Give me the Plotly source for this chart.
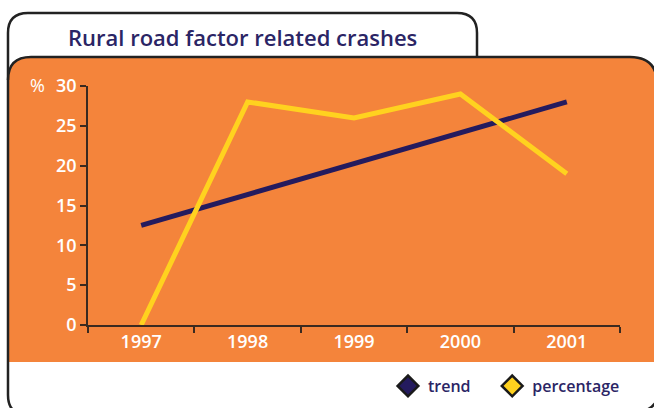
import plotly.graph_objects as go

W, H = 654, 408

years = ["1997", "1998", "1999", "2000", "2001"]
trend = [12.5, 16.375, 20.25, 24.125, 28.0]
percentage = [0, 28, 26, 29, 19]
y_ticks = [0, 5, 10, 15, 20, 25, 30]
legend_names = ["trend", "percentage"]

ORANGE = "#F4843B"
NAVY = "#241B5E"
YELLOW = "#FFD21F"
TEXT_NAVY = "#2B2565"
AXIS = "#3A2A20"
FONT = "Open Sans"
NBSP = "\u00a0"

def px(x, y):
    return f"{x / W:.5f},{1 - y / H:.5f}"

def path(cmds):
    out = []
    for c in cmds:
        if isinstance(c, str):
            out.append(c)
        else:
            out.append(px(*c))
    return " ".join(out)

fig = go.Figure()

fig.add_trace(go.Scatter(x=years, y=trend, mode="lines",
                         line=dict(color=NAVY, width=5), showlegend=False,
                         hoverinfo="skip"))
fig.add_trace(go.Scatter(x=years, y=percentage, mode="lines",
                         line=dict(color=YELLOW, width=5), showlegend=False,
                         hoverinfo="skip"))
# legend entries
fig.add_trace(go.Scatter(x=[None], y=[None], mode="markers",
                         name=legend_names[0] + NBSP * 4,
                         marker=dict(symbol="diamond", size=18, color=NAVY,
                                     line=dict(color="#1a1a1a", width=2.5))))
fig.add_trace(go.Scatter(x=[None], y=[None], mode="markers",
                         name=legend_names[1],
                         marker=dict(symbol="diamond", size=18, color=YELLOW,
                                     line=dict(color="#1a1a1a", width=2.5))))

shapes = []
# orange panel fill
shapes.append(dict(type="path", xref="paper", yref="paper", layer="below",
                   path=path(["M", (8, 362), "L", (8, 80), "Q", (8, 57), (31, 57),
                              "L", (630, 57), "Q", (657, 57), (657, 84),
                              "L", (657, 362), "Z"]),
                   fillcolor=ORANGE, line=dict(width=0)))
# outer outline with tab
shapes.append(dict(type="path", xref="paper", yref="paper", layer="above",
                   path=path(["M", (8, 395), "L", (8, 33), "Q", (8, 13), (28, 13),
                              "L", (457, 13), "Q", (477, 13), (477, 33),
                              "L", (477, 57)]),
                   line=dict(color="#222222", width=2.5)))
shapes.append(dict(type="path", xref="paper", yref="paper", layer="above",
                   path=path(["M", (8, 395), "Q", (8, 412), (22, 414)]),
                   line=dict(color="#222222", width=2.5)))
# orange panel top border
shapes.append(dict(type="path", xref="paper", yref="paper", layer="above",
                   path=path(["M", (8, 80), "Q", (8, 57), (31, 57),
                              "L", (630, 57), "Q", (657, 57), (657, 84)]),
                   line=dict(color="#222222", width=2.5)))
# bottom right corner
shapes.append(dict(type="path", xref="paper", yref="paper", layer="above",
                   path=path(["M", (660, 385), "Q", (660, 408), (640, 412)]),
                   line=dict(color="#222222", width=2.5)))

annotations = [
    dict(text="Rural road factor related crashes", x=242 / W, y=1 - 37 / H,
         xref="paper", yref="paper", showarrow=False,
         xanchor="center", yanchor="middle",
         font=dict(family=FONT, size=22, color=TEXT_NAVY, weight=600)),
    dict(text="%", x=37 / W, y=1 - 85 / H, xref="paper", yref="paper",
         showarrow=False, xanchor="center", yanchor="middle",
         font=dict(family=FONT, size=18, color="white")),
]

fig.update_layout(
    width=W, height=H,
    margin=dict(l=0, r=0, t=0, b=0),
    paper_bgcolor="white",
    plot_bgcolor="rgba(0,0,0,0)",
    shapes=shapes,
    annotations=annotations,
    showlegend=True,
    legend=dict(orientation="h", x=388 / W, y=(H - 403) / H, xanchor="left",
                yanchor="bottom", bgcolor="rgba(0,0,0,0)",
                font=dict(family=FONT, size=16, color=TEXT_NAVY, weight=600)),
    xaxis=dict(domain=[88 / W, 620 / W], type="category",
               range=[-0.5, 4.5], showgrid=False, zeroline=False,
               showline=True, linecolor=AXIS, linewidth=1.5,
               ticks="outside", tickson="boundaries", ticklen=6,
               tickcolor=AXIS, tickwidth=1.5, automargin=False,
               tickfont=dict(family=FONT, size=18, color="white", weight=600)),
    yaxis=dict(domain=[1 - 325 / H, 1 - 86 / H], range=[0, 30],
               tickvals=y_ticks, showgrid=False, zeroline=False,
               showline=True, linecolor=AXIS, linewidth=1.5,
               ticks="outside", ticklen=6, tickcolor=AXIS, tickwidth=1.5,
               automargin=False,
               tickfont=dict(family=FONT, size=18, color="white", weight=600)),
)

fig.write_html("out.html", config={"displayModeBar": False},
               post_script="document.body.style.margin='0';")
